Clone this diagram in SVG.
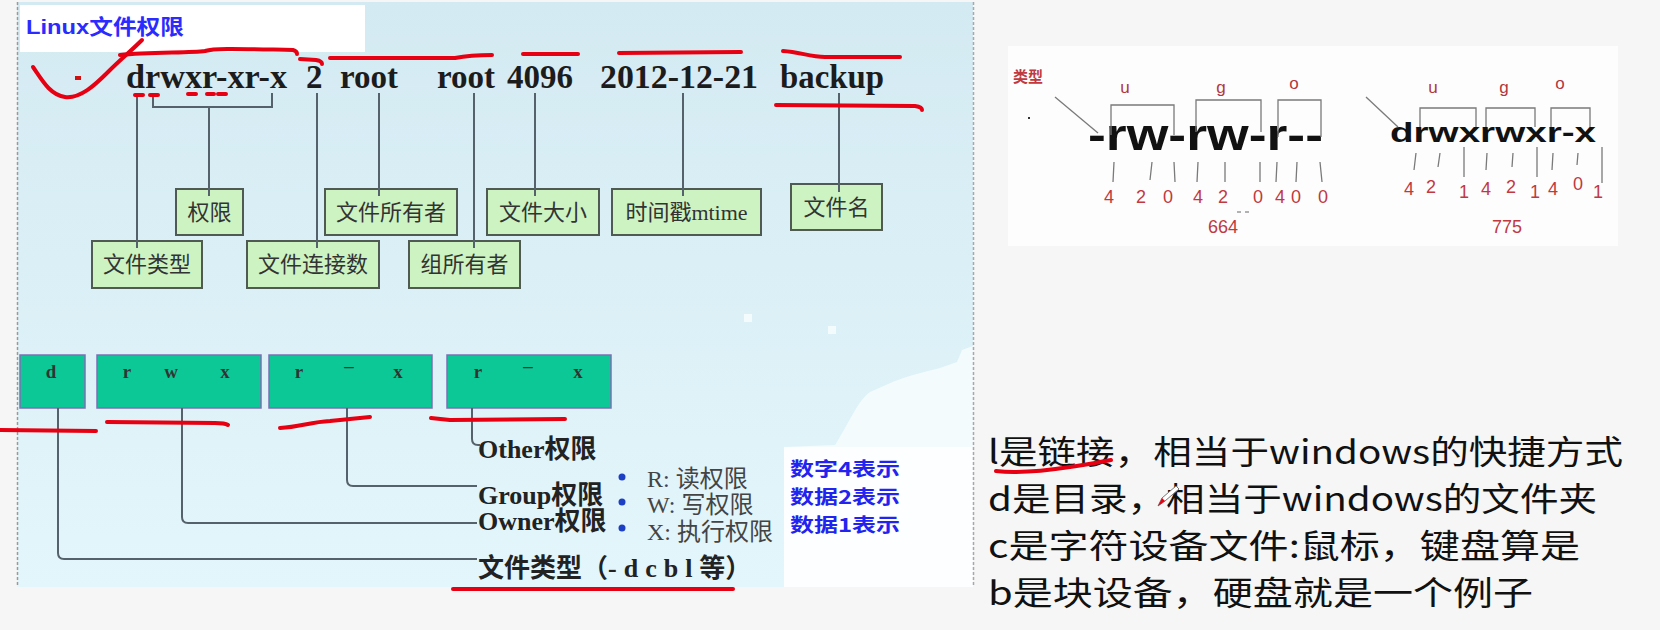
<svg xmlns="http://www.w3.org/2000/svg" width="1660" height="630" viewBox="0 0 1660 630">
<defs>
<linearGradient id="panelBg" x1="0" y1="0" x2="0" y2="1">
<stop offset="0" stop-color="#d4eaf2"/>
<stop offset="1" stop-color="#e3f6fb"/>
</linearGradient>
</defs>
<style>
.tok{font-family:"Liberation Serif","Noto Sans CJK SC",serif;font-weight:bold;font-size:33px;fill:#1c1c1c}
.box{fill:#cdf3c3;stroke:#4f5a52;stroke-width:2}
.boxt{font-family:"Noto Sans CJK SC","Liberation Serif",sans-serif;font-size:22px;fill:#333;text-anchor:middle}
.teal{fill:#0bc896;stroke:#7a70b4;stroke-width:1.5}
.tealt{font-family:"Liberation Serif",serif;font-weight:bold;font-size:19px;fill:#333;text-anchor:middle}
.conn{fill:none;stroke:#56626b;stroke-width:2}
.thin{fill:none;stroke:#7a7a7a;stroke-width:1.3}
.red{fill:none;stroke:#e60012;stroke-width:4;stroke-linecap:round;stroke-linejoin:round}
.lbl{font-family:"Liberation Serif","Noto Sans CJK SC",serif;font-weight:bold;font-size:26px;fill:#222}
.perm{font-family:"Liberation Serif","Noto Sans CJK SC",serif;font-size:24px;fill:#444}
.blue{font-family:"Noto Sans CJK SC",sans-serif;font-weight:bold;font-size:19px;fill:#2323f0}
.rn{font-family:"Liberation Sans",sans-serif;font-size:18px;fill:#c0393f;text-anchor:middle}
.ugo{font-family:"Liberation Sans",sans-serif;font-size:17px;fill:#b2363c;text-anchor:middle}
.note{font-family:"Noto Sans CJK SC",sans-serif;font-size:32.5px;fill:#111}
</style>
<rect x="0" y="0" width="1660" height="630" fill="#f6f6f6"/>
<!-- left panel -->
<g id="panel">
<rect x="17" y="2" width="956" height="585" fill="url(#panelBg)"/>
<path d="M784 447 L835 445 C848 425 858 400 870 392 L888 384 C905 376 925 372 940 368 L957 362 L962 350 L973 346 L973 587 L784 587 Z" fill="#f3fbfd"/>
<rect x="784" y="447" width="189" height="140" fill="#fcfeff"/>
<rect x="744" y="314" width="8" height="8" fill="#f4fbfd"/>
<rect x="828" y="326" width="8" height="8" fill="#f4fbfd"/>
<line x1="17.5" y1="2" x2="17.5" y2="587" stroke="#9a9a9a" stroke-width="1.5" stroke-dasharray="3 2"/>
<line x1="973.5" y1="2" x2="973.5" y2="587" stroke="#a8a8a8" stroke-width="1.5" stroke-dasharray="3 2"/>
</g>
<g id="title">
<rect x="20" y="5" width="345" height="47" fill="#ffffff"/>
<text x="26" y="34" font-family="Liberation Sans,Noto Sans CJK SC,sans-serif" font-weight="bold" font-size="21" fill="#2b2bff" textLength="158" lengthAdjust="spacingAndGlyphs">Linux文件权限</text>
</g>
<!-- listing line -->
<g id="listing">
<text class="tok" x="126" y="88" textLength="161" lengthAdjust="spacingAndGlyphs">drwxr-xr-x</text>
<text class="tok" x="306" y="88">2</text>
<text class="tok" x="340" y="88">root</text>
<text class="tok" x="437" y="88">root</text>
<text class="tok" x="507" y="88">4096</text>
<text class="tok" x="600" y="88" textLength="158" lengthAdjust="spacingAndGlyphs">2012-12-21</text>
<text class="tok" x="780" y="88" textLength="104" lengthAdjust="spacingAndGlyphs">backup</text>
</g>
<!-- top boxes -->
<g id="n-quanxian"><rect class="box" x="176" y="189" width="67" height="46"/><text class="boxt" x="209.5" y="220">权限</text></g>
<g id="n-wenjianleixing"><rect class="box" x="92" y="241" width="110" height="47"/><text class="boxt" x="147" y="272">文件类型</text></g>
<g id="n-lianjieshu"><rect class="box" x="247" y="241" width="132" height="47"/><text class="boxt" x="313" y="272">文件连接数</text></g>
<g id="n-suoyouzhe"><rect class="box" x="325" y="189" width="132" height="46"/><text class="boxt" x="391" y="220">文件所有者</text></g>
<g id="n-zusuoyouzhe"><rect class="box" x="409" y="241" width="111" height="47"/><text class="boxt" x="464.5" y="272">组所有者</text></g>
<g id="n-daxiao"><rect class="box" x="487" y="189" width="112" height="46"/><text class="boxt" x="543" y="220">文件大小</text></g>
<g id="n-mtime"><rect class="box" x="612" y="189" width="149" height="46"/><text class="boxt" x="686.5" y="220">时间戳<tspan font-family="Liberation Serif,serif">mtime</tspan></text></g>
<g id="n-wenjianming"><rect class="box" x="791" y="184" width="91" height="46"/><text class="boxt" x="836.5" y="215">文件名</text></g>
<!-- bottom teal boxes -->
<g id="n-d"><rect class="teal" x="20" y="355" width="65" height="53"/><text class="tealt" x="51" y="378">d</text></g>
<g id="n-rwx"><rect class="teal" x="97" y="355" width="164" height="53"/><text class="tealt" x="127" y="378">r</text><text class="tealt" x="171" y="378">w</text><text class="tealt" x="225" y="378">x</text></g>
<g id="n-rx1"><rect class="teal" x="269" y="355" width="163" height="53"/><text class="tealt" x="299" y="378">r</text><text class="tealt" x="349" y="372">–</text><text class="tealt" x="398" y="378">x</text></g>
<g id="n-rx2"><rect class="teal" x="447" y="355" width="164" height="53"/><text class="tealt" x="478" y="378">r</text><text class="tealt" x="528" y="372">–</text><text class="tealt" x="578" y="378">x</text></g>
<!-- bottom labels -->
<g id="n-other"><text class="lbl" x="478" y="458">Other权限</text></g>
<g id="n-group"><text class="lbl" x="478" y="504">Group权限</text></g>
<g id="n-owner"><text class="lbl" x="478" y="530">Owner权限</text></g>
<g id="n-type"><text class="lbl" x="478" y="577">文件类型（<tspan letter-spacing="7">-dcbl</tspan>等）</text></g>
<g id="n-perms">
<circle cx="622" cy="477" r="3.5" fill="#1d3fc4"/>
<circle cx="622" cy="502" r="3.5" fill="#1d3fc4"/>
<circle cx="622" cy="528" r="3.5" fill="#1d3fc4"/>
<text class="perm" x="647" y="487">R:  读权限</text>
<text class="perm" x="647" y="513">W: 写权限</text>
<text class="perm" x="647" y="540">X:  执行权限</text>
</g>
<g id="n-blue">
<text class="blue" x="790" y="476" textLength="110" lengthAdjust="spacingAndGlyphs">数字4表示</text>
<text class="blue" x="790" y="504" textLength="110" lengthAdjust="spacingAndGlyphs">数据2表示</text>
<text class="blue" x="790" y="532" textLength="110" lengthAdjust="spacingAndGlyphs">数据1表示</text>
</g>
<!-- connectors -->
<g id="connectors">
<path class="conn" d="M137 97 V248"/>
<path class="conn" d="M153 93 V107 H272 V93"/>
<path class="conn" d="M209 107 V196"/>
<path class="conn" d="M317 93 V248"/>
<path class="conn" d="M379 93 V196"/>
<path class="conn" d="M474 93 V248"/>
<path class="conn" d="M535 93 V196"/>
<path class="conn" d="M683 93 V196"/>
<path class="conn" d="M839 93 V192"/>
<path class="conn" d="M58 408 V553 Q58 559 64 559 H477"/>
<path class="conn" d="M182 408 V517 Q182 523 188 523 H477"/>
<path class="conn" d="M347 408 V480 Q347 486 353 486 H477"/>
<path class="conn" d="M472 408 V439 Q472 445 478 445 H480"/>
</g>
<!-- right top figure -->
<g id="ugo-figure">
<rect x="1008" y="46" width="610" height="200" fill="#fdfdfd"/>
<text x="1013" y="82" font-family="Noto Sans CJK SC,sans-serif" font-weight="bold" font-size="15" fill="#c0393f">类型</text>
<rect x="1028" y="117" width="2" height="2" fill="#333"/>
<path class="thin" d="M1055 97 L1098 133"/>
<text x="1088" y="150" font-family="Liberation Sans,sans-serif" font-weight="bold" font-size="44" fill="#111" textLength="235" lengthAdjust="spacingAndGlyphs">-rw-rw-r--</text>
<text class="ugo" x="1125" y="93">u</text>
<text class="ugo" x="1221" y="93">g</text>
<text class="ugo" x="1294" y="89">o</text>
<path class="thin" d="M1111 135 V105 H1174 V135 M1196 132 V100 H1261 V132 M1278 137 V100 H1321 V137"/>
<path class="thin" d="M1114 162 L1113 182 M1152 162 L1150 180 M1174 162 L1175 182 M1198 162 L1197 182 M1225 162 L1225 182 M1260 162 L1260 182 M1277 162 L1276 182 M1297 162 L1296 182 M1320 162 L1322 182"/>
<text class="rn" x="1109" y="203">4</text>
<text class="rn" x="1141" y="203">2</text>
<text class="rn" x="1168" y="203">0</text>
<text class="rn" x="1198" y="203">4</text>
<text class="rn" x="1223" y="203">2</text>
<text class="rn" x="1258" y="203">0</text>
<text class="rn" x="1280" y="203">4</text>
<text class="rn" x="1296" y="203">0</text>
<text class="rn" x="1323" y="203">0</text>
<path d="M1237 212 H1241 M1245 212 H1249" stroke="#666" stroke-width="1"/>
<text class="rn" x="1223" y="233" font-size="17">664</text>
<path class="thin" d="M1366 97 L1398 127"/>
<text x="1390" y="142" font-family="Liberation Sans,sans-serif" font-weight="bold" font-size="28" fill="#111" textLength="206" lengthAdjust="spacingAndGlyphs">drwxrwxr-x</text>
<text class="ugo" x="1433" y="93">u</text>
<text class="ugo" x="1504" y="93">g</text>
<text class="ugo" x="1560" y="89">o</text>
<path class="thin" d="M1420 127 V108 H1476 V127 M1486 127 V108 H1535 V127 M1551 127 V108 H1590 V127"/>
<path class="thin" d="M1416 153 L1414 170 M1440 153 L1438 167 M1464 147 L1464 177 M1487 153 L1486 170 M1513 153 L1512 167 M1537 147 L1537 177 M1553 153 L1552 170 M1578 153 L1577 165 M1602 147 L1602 183"/>
<text class="rn" x="1409" y="195">4</text>
<text class="rn" x="1431" y="193">2</text>
<text class="rn" x="1464" y="198">1</text>
<text class="rn" x="1486" y="195">4</text>
<text class="rn" x="1511" y="193">2</text>
<text class="rn" x="1535" y="198">1</text>
<text class="rn" x="1553" y="195">4</text>
<text class="rn" x="1578" y="190">0</text>
<text class="rn" x="1598" y="198">1</text>
<text class="rn" x="1507" y="233" font-size="17">775</text>
</g>
<!-- notes -->
<g id="notes">
<text class="note" x="988" y="464" textLength="635" lengthAdjust="spacingAndGlyphs">l是链接，相当于windows的快捷方式</text>
<text class="note" x="988" y="511" textLength="609" lengthAdjust="spacingAndGlyphs">d是目录，相当于windows的文件夹</text>
<text class="note" x="988" y="558" textLength="592" lengthAdjust="spacingAndGlyphs">c是字符设备文件:鼠标，键盘算是</text>
<text class="note" x="988" y="605" textLength="545" lengthAdjust="spacingAndGlyphs">b是块设备，硬盘就是一个例子</text>
</g>
<!-- red hand annotations -->
<g id="annotations">
<path class="red" d="M33 67 C42 80 50 95 65 97 C80 99 95 85 108 72 C120 60 132 50 142 40"/>
<path class="red" d="M120 55 C150 52 190 53 205 51 C215 48 240 49 293 50 Q297 51 297 54"/>
<path class="red" d="M300 59 L316 60 Q322 61 322 64"/>
<path class="red" d="M330 58 L455 58 Q470 55 492 55"/>
<path class="red" d="M523 54 L578 54"/>
<path class="red" d="M619 53 L741 52"/>
<path class="red" d="M783 51 C800 52 810 57 825 57 L900 57"/>
<path class="red" d="M776 105 L915 106 Q922 107 922 110"/>
<path class="red" stroke-linecap="butt" d="M135 95 H143 M150 95 H158 M188 94 H196 M207 94 H214 M218 94 H226"/>
<rect x="75" y="76" width="6" height="4" fill="#d01010"/>
<path class="red" d="M0 430 L96 431"/>
<path class="red" d="M107 422 L215 423 Q225 423 228 425"/>
<path class="red" d="M280 428 C300 427 310 422 330 421 L370 417"/>
<path class="red" d="M431 418 Q440 419 450 420 L565 419"/>
<path class="red" d="M453 589 L733 589"/>
<path class="red" stroke-width="3" d="M996 471 C1020 474 1050 470 1070 467 C1085 465 1100 462 1111 460"/>
<path d="M1158 506 L1162 498 L1176 486 L1179 489 L1165 501 Z" fill="#fff" stroke="#777" stroke-width="1"/>
<path d="M1158 506 L1162 498 L1165 501 Z" fill="#e60012"/>
</g>
</svg>
